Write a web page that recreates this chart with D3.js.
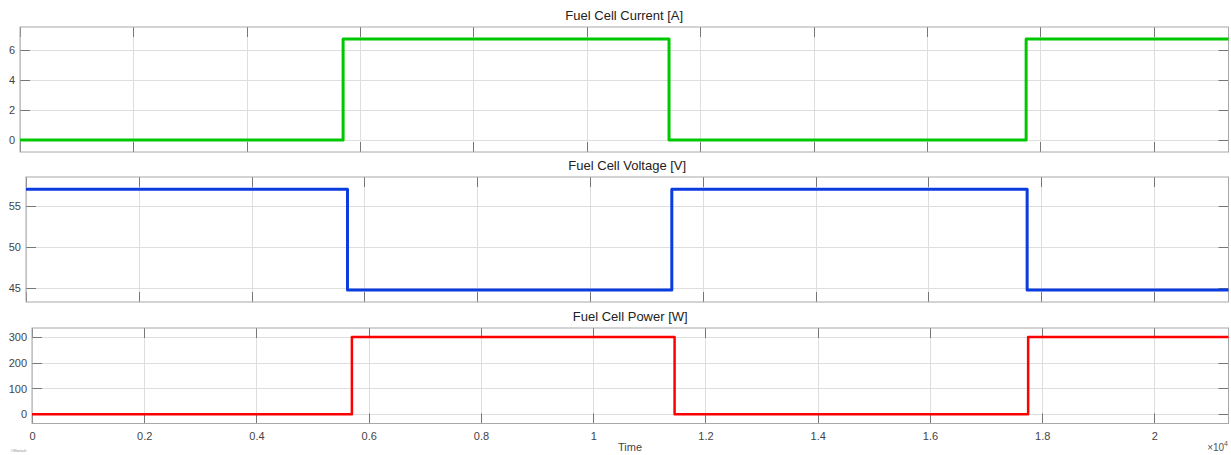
<!DOCTYPE html>
<html>
<head>
<meta charset="utf-8">
<script src="https://cdn.jsdelivr.net/npm/d3@7"></script>
<style>
  body { margin: 0; background: #fff; }
  svg { display: block; font-family: "Liberation Sans", Arial, sans-serif; }
  .grid line { stroke: #dedede; stroke-width: 1; }
  .tick-in line { stroke: #777; stroke-width: 1; }
  .frame { fill: none; stroke: #a8a8a8; stroke-width: 1; }
</style>
</head>
<body>
<svg id="chart" width="1231" height="455"></svg>
<script>
// simulation output, time in seconds
var time = [0, 5700, 11450, 17750, 21320];

var current = [0, 6.7, 0, 6.7, 6.7];
var voltage = [57.05, 44.8, 57.05, 44.8, 44.8];
var power   = [0, 300, 0, 300, 300];

var xTicks = [0, 2000, 4000, 6000, 8000, 10000, 12000, 14000, 16000, 18000, 20000];
var currentTicks = [0, 2, 4, 6];
var voltageTicks = [45, 50, 55];
var powerTicks = [0, 100, 200, 300];

var svg = d3.select("#chart");

function drawPanel(cfg) {
  var x = d3.scaleLinear()
    .domain([0, 21320])
    .range([cfg.left, 1228.5]);

  var y = d3.scaleLinear()
    .domain(cfg.yDomain)
    .range([cfg.bottom, cfg.top]);

  var g = svg.append("g");

  // grid
  var grid = g.append("g").attr("class", "grid");
  grid.selectAll("line.v")
    .data(xTicks)
    .enter().append("line")
    .attr("x1", function(d){ return Math.round(x(d)) + 0.5; })
    .attr("x2", function(d){ return Math.round(x(d)) + 0.5; })
    .attr("y1", cfg.top)
    .attr("y2", cfg.bottom);
  grid.selectAll("line.h")
    .data(cfg.yTicks)
    .enter().append("line")
    .attr("y1", function(d){ return Math.round(y(d)) + 0.5; })
    .attr("y2", function(d){ return Math.round(y(d)) + 0.5; })
    .attr("x1", cfg.left)
    .attr("x2", 1228.5);

  // inward ticks on all four sides
  var tl = 10;
  var ticks = g.append("g").attr("class", "tick-in");
  xTicks.forEach(function(d){
    var px = Math.round(x(d)) + 0.5;
    ticks.append("line").attr("x1", px).attr("x2", px).attr("y1", cfg.top).attr("y2", cfg.top + tl);
    ticks.append("line").attr("x1", px).attr("x2", px).attr("y1", cfg.bottom).attr("y2", cfg.bottom - tl);
  });
  cfg.yTicks.forEach(function(d){
    var py = Math.round(y(d)) + 0.5;
    ticks.append("line").attr("x1", cfg.left).attr("x2", cfg.left + tl).attr("y1", py).attr("y2", py);
    ticks.append("line").attr("x1", 1228.5).attr("x2", 1228.5 - tl).attr("y1", py).attr("y2", py);
  });

  g.append("rect")
    .attr("class", "frame")
    .attr("x", cfg.left)
    .attr("y", cfg.top)
    .attr("width", 1228.5 - cfg.left)
    .attr("height", cfg.bottom - cfg.top);

  // y labels via d3 axis, lines hidden
  var yAxis = d3.axisLeft(y).tickValues(cfg.yTicks).tickSize(0).tickPadding(5);
  var ya = g.append("g")
    .attr("transform", "translate(" + cfg.left + ",0)")
    .call(yAxis);
  ya.select(".domain").remove();
  ya.selectAll("text").style("font-family", "inherit").style("font-size", "11px").attr("fill", "#444");

  if (cfg.xLabels) {
    var xAxis = d3.axisBottom(x).tickValues(xTicks).tickSize(0).tickPadding(9)
      .tickFormat(function(d){ return d3.format("~g")(d / 10000); });
    var xa = g.append("g")
      .attr("transform", "translate(0," + cfg.bottom + ")")
      .call(xAxis);
    xa.select(".domain").remove();
    xa.selectAll("text").style("font-family", "inherit").style("font-size", "11px").attr("fill", "#444");
  }

  var line = d3.line()
    .x(function(d){ return x(d[0]); })
    .y(function(d){ return y(d[1]); })
    .curve(d3.curveStepAfter);

  g.append("path")
    .datum(d3.zip(time, cfg.values))
    .attr("fill", "none")
    .attr("stroke", cfg.color)
    .attr("stroke-width", cfg.width)
    .attr("stroke-linejoin", "round")
    .attr("d", line);

  svg.append("text")
    .attr("x", (cfg.left + 1228.5) / 2)
    .attr("y", cfg.top - 7)
    .attr("text-anchor", "middle")
    .style("font-size", "13px")
    .attr("fill", "#222")
    .text(cfg.title);

  return x;
}

drawPanel({title: "Fuel Cell Current [A]", left: 20, top: 27, bottom: 152,
  yDomain: [-0.8, 7.5], yTicks: currentTicks, values: current, color: "#00c800", width: 3});

drawPanel({title: "Fuel Cell Voltage [V]", left: 26, top: 177, bottom: 302,
  yDomain: [43.35, 58.55], yTicks: voltageTicks, values: voltage, color: "#0a3ce0", width: 3});

drawPanel({title: "Fuel Cell Power [W]", left: 32, top: 328, bottom: 423.5,
  yDomain: [-36, 335], yTicks: powerTicks, values: power, color: "#ff0000", width: 2.5, xLabels: true});

svg.append("text")
  .attr("x", 630)
  .attr("y", 451)
  .attr("text-anchor", "middle")
  .style("font-size", "11px")
  .attr("fill", "#444")
  .text("Time");

var mult = svg.append("text")
  .attr("x", 1228)
  .attr("y", 451)
  .attr("text-anchor", "end")
  .style("font-size", "10px")
  .attr("fill", "#555");
mult.append("tspan").text("\u00d710");
mult.append("tspan").attr("dy", -5).style("font-size", "7px").text("4");

svg.append("text")
  .attr("x", 11)
  .attr("y", 452)
  .style("font-size", "4px")
  .attr("fill", "#888")
  .text("Offset=0");
</script>
</body>
</html>
